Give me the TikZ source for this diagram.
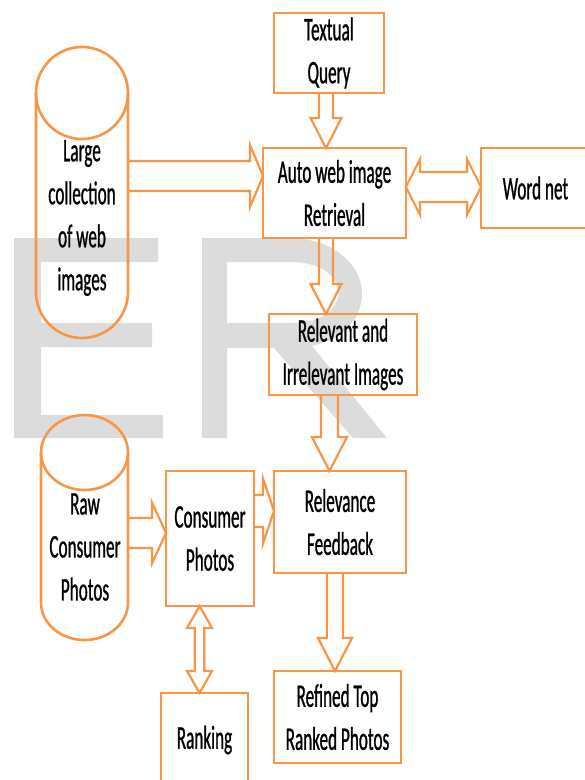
\documentclass[tikz,border=0pt]{standalone}
\usepackage{fontspec}
\setmainfont{Carlito}[FakeStretch=0.52,FakeBold=0.8]
\usetikzlibrary{calc}
\definecolor{org}{HTML}{F79646}
\definecolor{wm}{HTML}{DCDCDC}
\tikzset{
  txt/.style={align=center, inner sep=0pt, outer sep=0pt, font=\fontsize{33}{43}\selectfont, text=black},
  box/.style={txt, draw=org, line width=2.8pt, rectangle},
  blk/.style={draw=org, line width=2.2pt, line join=miter},
  cyl/.style={draw=org, line width=2.6pt},
  wmark/.style={fill=wm, draw=none, even odd rule}
}
% down block arrow: tail anchor, tip anchor, x, shaft half, head half, head length
\newcommand\DnArrow[6]{%
  \draw[blk] let \p1=(#1), \p2=(#2) in
   (#3pt-#4pt,\y1) -- (#3pt-#4pt,\y2+#6pt) -- (#3pt-#5pt,\y2+#6pt) -- (#3pt,\y2)
   -- (#3pt+#5pt,\y2+#6pt) -- (#3pt+#4pt,\y2+#6pt) -- (#3pt+#4pt,\y1);}
% right block arrow: tail, tip, y, shaft half, head half, head length
\newcommand\RtArrow[6]{%
  \draw[blk] let \p1=(#1), \p2=(#2) in
   (\x1,-#3pt+#4pt) -- (\x2-#6pt,-#3pt+#4pt) -- (\x2-#6pt,-#3pt+#5pt) -- (\x2,-#3pt)
   -- (\x2-#6pt,-#3pt-#5pt) -- (\x2-#6pt,-#3pt-#4pt) -- (\x1,-#3pt-#4pt);}
% horizontal double block arrow
\newcommand\HDArrow[6]{%
  \draw[blk] let \p1=(#1), \p2=(#2) in
   (\x1,-#3pt) -- (\x1+#6pt,-#3pt+#5pt) -- (\x1+#6pt,-#3pt+#4pt) -- (\x2-#6pt,-#3pt+#4pt)
   -- (\x2-#6pt,-#3pt+#5pt) -- (\x2,-#3pt) -- (\x2-#6pt,-#3pt-#5pt) -- (\x2-#6pt,-#3pt-#4pt)
   -- (\x1+#6pt,-#3pt-#4pt) -- (\x1+#6pt,-#3pt-#5pt) -- cycle;}
% vertical double block arrow
\newcommand\VDArrow[6]{%
  \draw[blk] let \p1=(#1), \p2=(#2) in
   (#3pt,\y1) -- (#3pt+#5pt,\y1-#6pt) -- (#3pt+#4pt,\y1-#6pt) -- (#3pt+#4pt,\y2+#6pt)
   -- (#3pt+#5pt,\y2+#6pt) -- (#3pt,\y2) -- (#3pt-#5pt,\y2+#6pt) -- (#3pt-#4pt,\y2+#6pt)
   -- (#3pt-#4pt,\y1-#6pt) -- (#3pt-#5pt,\y1-#6pt) -- cycle;}
\begin{document}
\begin{tikzpicture}[x=1pt,y=-1pt]
\useasboundingbox (0,0) rectangle (585,780);
% watermark
\fill[wmark] (14,238) -- (158,238) -- (158,262) -- (41,262) -- (41,323) -- (152,323)
  -- (152,347) -- (41,347) -- (41,415) -- (163,415) -- (163,438) -- (14,438) -- cycle;
\fill[wmark] (202,238) -- (290,238) .. controls (330,238) and (362,263) .. (362,293)
  .. controls (362,318) and (345,338) .. (312,346) -- (387,438) -- (353,438) -- (274,348)
  -- (227,348) -- (227,438) -- (202,438) -- cycle
  (227,262) -- (290,262) .. controls (320,262) and (338,275) .. (338,293)
  .. controls (338,311) and (320,323) .. (290,323) -- (227,323) -- cycle;
% cylinders
\draw[cyl] (82,93) ellipse [x radius=46, y radius=46];
\draw[cyl] (36,93) -- (36,292) arc[start angle=180, end angle=0, x radius=46, y radius=46] -- (128,93);
\node[txt] (lc) at (82,218) {Large\\collection\\of web\\images};
\coordinate (lcR) at (128,176);
\draw[cyl] (84.5,452.5) ellipse [x radius=43.5, y radius=37.5];
\draw[cyl] (41,452.5) -- (41,602.5) arc[start angle=180, end angle=0, x radius=43.5, y radius=37.5] -- (128,452.5);
\node[txt] (rc) at (85,547) {Raw\\Consumer\\Photos};
\coordinate (rcR) at (128,533);
% boxes
\node[box, minimum width=110pt, minimum height=80pt] (tq) at (329,53) {Textual\\Query};
\node[box, minimum width=143pt, minimum height=90pt] (auto) at (334.5,193) {Auto web image\\Retrieval};
\node[box, minimum width=109pt, minimum height=80pt] (wn) at (535.5,188) {Word net};
\node[box, minimum width=148pt, minimum height=81pt] (rel) at (343,354.5) {Relevant and\\Irrelevant Images};
\node[box, minimum width=132pt, minimum height=102pt] (fb) at (340,522) {Relevance\\Feedback};
\node[box, minimum width=127pt, minimum height=92pt] (ref) at (337.5,717) {Refined Top\\Ranked Photos};
\node[box, minimum width=88pt, minimum height=135pt] (cp) at (210,538.5) {Consumer\\Photos};
\node[box, minimum width=87pt, minimum height=94pt] (rank) at (204.5,740) {Ranking};
% arrows
\DnArrow{tq.south}{auto.north}{326}{7}{15.5}{30}
\RtArrow{lcR}{auto.west}{176}{15}{31}{13}
\HDArrow{auto.east}{wn.west}{187}{15}{28}{14}
\DnArrow{auto.south}{rel.north}{326}{7}{15.5}{30}
\DnArrow{rel.south}{fb.north}{329.5}{8.5}{17.5}{34}
\DnArrow{fb.south}{ref.north}{335}{8}{17}{33}
\RtArrow{rcR}{cp.west}{533}{15}{30.5}{14}
\RtArrow{cp.east}{fb.west}{511}{16}{32.5}{11}
\VDArrow{cp.south}{rank.north}{199.5}{4.8}{12.5}{22}
\end{tikzpicture}
\end{document}
